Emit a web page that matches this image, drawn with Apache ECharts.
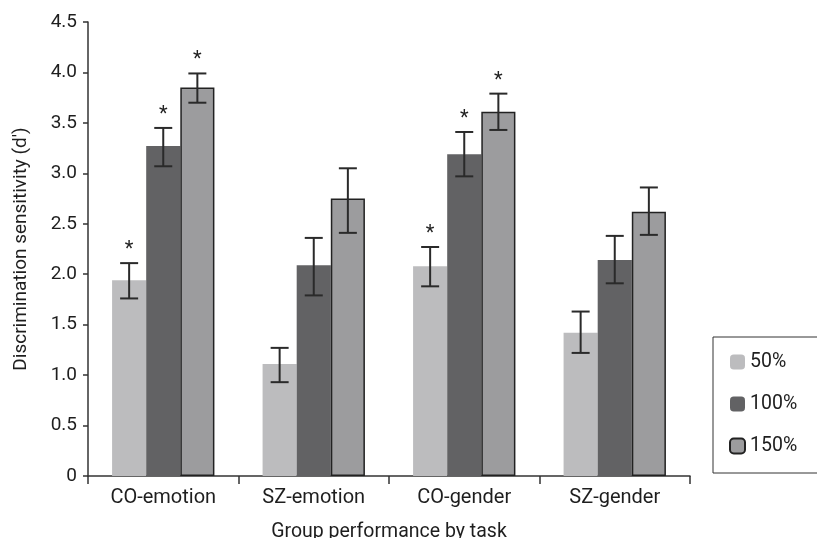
<!DOCTYPE html>
<html><head><meta charset="utf-8">
<script src="https://cdn.jsdelivr.net/npm/echarts@6/dist/echarts.min.js"></script>
<style>html,body{margin:0;padding:0;background:#fff}#c{width:817px;height:538px}</style>
</head><body><div id="c"></div>
<script>
var categories = ['CO-emotion', 'SZ-emotion', 'CO-gender', 'SZ-gender'];
var seriesNames = ['50%', '100%', '150%'];
var mean50 = [1.94, 1.11, 2.08, 1.42];
var mean100 = [3.27, 2.09, 3.19, 2.14];
var mean150 = [3.85, 2.75, 3.61, 2.62];
var low50 = [1.76, 0.93, 1.88, 1.22];
var high50 = [2.11, 1.27, 2.27, 1.63];
var low100 = [3.07, 1.79, 2.97, 1.91];
var high100 = [3.45, 2.36, 3.41, 2.38];
var low150 = [3.70, 2.41, 3.43, 2.39];
var high150 = [3.99, 3.05, 3.79, 2.86];
var sig50 = [1, 0, 1, 0];
var sig100 = [1, 0, 1, 0];
var sig150 = [1, 0, 1, 0];
var yTicks = ['0', '0.5', '1.0', '1.5', '2.0', '2.5', '3.0', '3.5', '4.0', '4.5'];

var means = [mean50, mean100, mean150];
var lows = [low50, low100, low150];
var highs = [high50, high100, high150];
var sigs = [sig50, sig100, sig150];
var colors = ['#bcbcbe', '#626264', '#9c9c9e'];
var gapPct = 0.32;
var font = 'Roboto, "Liberation Sans", Arial, sans-serif';
var txt = '#1e1e1e';

var chart = echarts.init(document.getElementById('c'));
var series = [];
seriesNames.forEach(function (name, si) {
  series.push({
    name: name, type: 'bar', data: means[si],
    barGap: 0, barCategoryGap: (gapPct * 100) + '%',
    itemStyle: si === 2 ? { color: colors[si], borderColor: '#222', borderWidth: 1.5 } : { color: colors[si] },
    emphasis: { disabled: true }
  });
});
seriesNames.forEach(function (name, si) {
  var data = categories.map(function (c, ci) { return [ci, lows[si][ci], highs[si][ci], sigs[si][ci]]; });
  series.push({
    type: 'custom', silent: true, z: 10,
    data: data,
    renderItem: function (params, api) {
      var ci = api.value(0);
      var band = api.size([1, 0])[0];
      var bw = band * (1 - gapPct) / 3;
      var p0 = api.coord([ci, api.value(1)]);
      var p1 = api.coord([ci, api.value(2)]);
      var x = p0[0] + (si - 1) * bw;
      var cap = 9;
      var st = { stroke: '#2a2a2a', lineWidth: 2 };
      var children = [
        { type: 'line', shape: { x1: x, y1: p0[1], x2: x, y2: p1[1] }, style: st },
        { type: 'line', shape: { x1: x - cap, y1: p0[1], x2: x + cap, y2: p0[1] }, style: st },
        { type: 'line', shape: { x1: x - cap, y1: p1[1], x2: x + cap, y2: p1[1] }, style: st }
      ];
      if (api.value(3)) {
        children.push({ type: 'text', style: { text: '*', x: x, y: p1[1] - 3, align: 'center', verticalAlign: 'bottom', fontSize: 20, fontFamily: font, fill: '#222' } });
      }
      return { type: 'group', children: children };
    }
  });
});

chart.setOption({
  animation: false,
  grid: { left: 88, right: 127, top: 22, bottom: 62, containLabel: false, outerBoundsMode: 'none' },
  legend: {
    data: seriesNames, orient: 'vertical', left: 713, top: 337,
    padding: [15, 40, 17, 16], itemGap: 22, itemWidth: 15, itemHeight: 15,
    borderColor: '#333', borderWidth: 1,
    textStyle: { fontSize: 19.5, fontFamily: font, color: txt, padding: [0, 0, 0, 0] }
  },
  xAxis: {
    type: 'category', data: categories,
    name: 'Group performance by task', nameLocation: 'middle', nameGap: 46,
    nameTextStyle: { fontSize: 19.5, fontFamily: font, color: txt },
    axisLine: { lineStyle: { color: '#333', width: 1.5 } },
    axisTick: { show: true, alignWithLabel: false, length: 8, lineStyle: { color: '#333', width: 1.5 } },
    axisLabel: { fontSize: 20, fontFamily: font, color: txt, margin: 12 }
  },
  yAxis: {
    type: 'value', min: 0, max: 4.5, interval: 0.5,
    name: 'Discrimination sensitivity (d\u2032)', nameLocation: 'middle', nameGap: 57,
    nameTextStyle: { fontSize: 19, fontFamily: font, color: txt },
    axisLine: { show: true, lineStyle: { color: '#333', width: 1.5 } },
    axisTick: { show: true, length: 5, lineStyle: { color: '#333', width: 1.5 } },
    splitLine: { show: false },
    axisLabel: { fontSize: 19, fontFamily: font, color: txt, margin: 11,
      formatter: function (v) { var i = Math.round(v / 0.5); return yTicks[i]; } }
  },
  series: series
});
</script></body></html>
